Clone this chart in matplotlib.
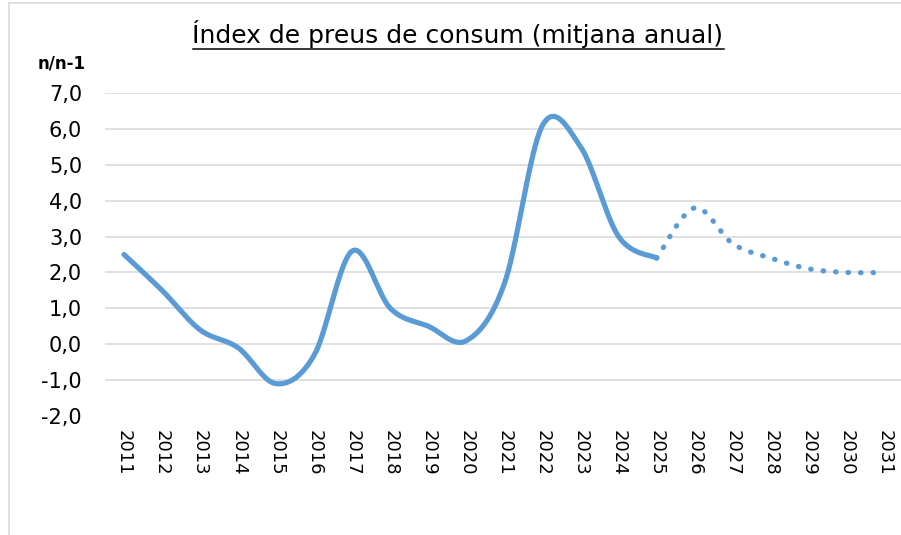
"""
Índex de preus de consum (mitjana anual), variació n/n-1.
Sèrie real 2011-2025 (línia contínua) i previsió 2025-2031 (punts).
"""
import matplotlib
matplotlib.use("Agg")
import matplotlib.pyplot as plt
import numpy as np
from matplotlib.lines import Line2D

years = ["2011", "2012", "2013", "2014", "2015", "2016", "2017", "2018", "2019", "2020", "2021",
         "2022", "2023", "2024", "2025", "2026", "2027", "2028", "2029", "2030", "2031"]
ipc_real = [2.5, 1.5, 0.4, -0.1, -1.1, -0.3, 2.6, 1.0, 0.5, 0.1, 1.7, 6.1, 5.5, 3.0, 2.4]  # 2011-2025
ipc_prev = [2.4, 3.8, 2.8, 2.4, 2.1, 2.0, 2.0]  # 2025-2031
y_ticks = [-2, -1, 0, 1, 2, 3, 4, 5, 6, 7]
y_labels = ["-2,0", "-1,0", "0,0", "1,0", "2,0", "3,0", "4,0", "5,0", "6,0", "7,0"]

BLUE = "#5B9BD5"
GRID = "#D9D9D9"
W, H = 901, 535


def smooth(x, y, n=40):
    # Bezier smoothing like Excel's "smoothed line"
    p = np.column_stack([np.asarray(x, float), np.asarray(y, float)])
    pp = np.vstack([p[:1], p, p[-1:]])
    t = np.linspace(0, 1, n)[:, None]
    out = []
    for i in range(len(p) - 1):
        p0, p1 = pp[i + 1], pp[i + 2]
        c1 = p0 + (pp[i + 2] - pp[i]) / 6
        c2 = p1 - (pp[i + 3] - pp[i + 1]) / 6
        seg = (1 - t) ** 3 * p0 + 3 * (1 - t) ** 2 * t * c1 + 3 * (1 - t) * t ** 2 * c2 + t ** 3 * p1
        out.append(seg if i == 0 else seg[1:])
    out = np.vstack(out)
    return out[:, 0], out[:, 1]


fig = plt.figure(figsize=(W / 100, H / 100), dpi=100)
ax = fig.add_axes([105 / W, 1 - 416 / H, 799 / W, 323 / H])

x_real = np.arange(len(ipc_real))
x_prev = np.arange(len(ipc_real) - 1, len(ipc_real) - 1 + len(ipc_prev))

ax.hlines(y_ticks[1:], -0.5, len(years) - 0.5, color=GRID, lw=1.1, zorder=1)

xs, ys = smooth(x_real, ipc_real)
ax.plot(xs, ys, color=BLUE, lw=3.75, solid_capstyle="round", zorder=3)
xs, ys = smooth(x_prev, ipc_prev)
ax.plot(xs, ys, color=BLUE, lw=3.75, linestyle=(0, (0.1, 2.3)), dash_capstyle="round", zorder=3)

ax.set_xlim(-0.5, len(years) - 0.5)
ax.set_ylim(-2, 7)
ax.set_xticks(range(len(years)))
ax.set_xticklabels(years, rotation=270, fontsize=13, family="DejaVu Sans")
ax.set_yticks(y_ticks)
ax.set_yticklabels(y_labels, fontsize=15, family="DejaVu Sans")
ax.tick_params(axis="x", length=0, pad=10)
ax.tick_params(axis="y", length=0, pad=16.5)
for s in ax.spines.values():
    s.set_visible(False)

# chart frame (top and left edges only are inside the picture)
fig.add_artist(Line2D([9 / W, 1.01], [1 - 3 / H, 1 - 3 / H], color=GRID, lw=1.2))
fig.add_artist(Line2D([9 / W, 9 / W], [1 - 3 / H, -0.01], color=GRID, lw=1.2))

title = fig.text(458 / W, 1 - 34 / H, "Índex de preus de consum (mitjana anual)",
                 ha="center", va="center", fontsize=18, family="DejaVu Sans")
fig.text(62 / W, 1 - 64 / H, "n/n-1", ha="center", va="center",
         fontsize=12, fontweight="bold", family="DejaVu Sans")

# underline the title
fig.canvas.draw()
bb = title.get_window_extent()
uy = (bb.y0 - 1) / H
fig.add_artist(Line2D([bb.x0 / W, bb.x1 / W], [uy, uy], color="black", lw=1.1))

fig.savefig("out.png", dpi=100)
